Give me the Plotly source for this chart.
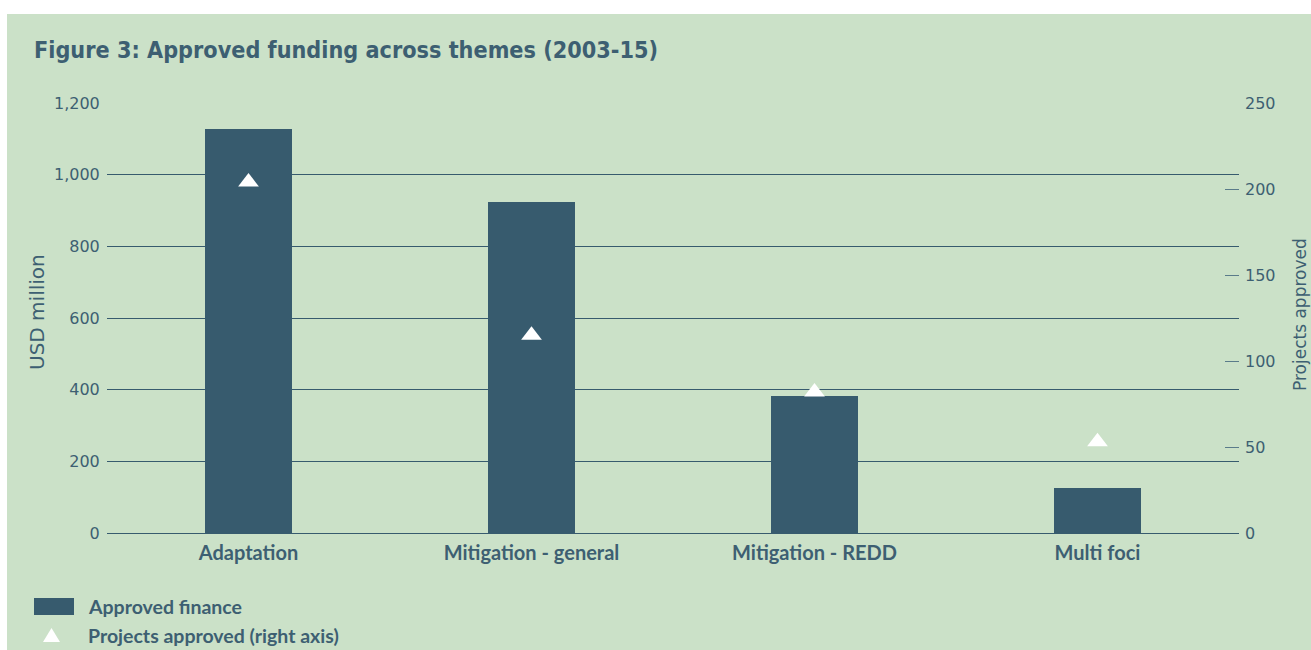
import plotly.graph_objects as go

# ---- data ----
categories = ["Adaptation", "Mitigation - general", "Mitigation - REDD", "Multi foci"]
approved_finance = [1127, 924, 382, 126]        # USD million (left axis)
projects_approved = [204, 115, 82, 53]          # count (right axis)
left_ticks = [0, 200, 400, 600, 800, 1000, 1200]
left_tick_labels = ["0", "200", "400", "600", "800", "1,000", "1,200"]
right_ticks = [0, 50, 100, 150, 200, 250]

# ---- styling ----
BG = "#cbe1c8"
BAR = "#375b6e"
TXT = "#3d5f72"
W, H = 1311, 650
L, R, T, B = 107, 72, 103, 117
PW, PH = W - L - R, H - T - B
TITLE_FONT = "DejaVu Sans Condensed, Roboto Condensed, Liberation Sans Narrow, Roboto, sans-serif"


def px(x):
    return (x - L) / PW


def py(y):
    return (H - B - y) / PH


fig = go.Figure()
fig.add_trace(go.Bar(
    x=categories, y=approved_finance, name="Approved finance",
    marker=dict(color=BAR, line=dict(width=0)), width=0.307,
    showlegend=False, yaxis="y"))
fig.add_trace(go.Scatter(
    x=categories, y=projects_approved, name="Projects approved (right axis)",
    mode="markers", marker=dict(symbol="triangle-up", size=18, color="white",
                                line=dict(width=0)),
    showlegend=False, yaxis="y2"))

shapes = [
    # white border strips
    dict(type="rect", xref="paper", yref="paper", x0=px(0), x1=px(W), y0=py(0), y1=py(14),
         fillcolor="white", line=dict(width=0), layer="below"),
    dict(type="rect", xref="paper", yref="paper", x0=px(0), x1=px(7), y0=py(0), y1=py(H),
         fillcolor="white", line=dict(width=0), layer="below"),
    # legend rectangle
    dict(type="rect", xref="paper", yref="paper", x0=px(34), x1=px(74), y0=py(615), y1=py(598),
         fillcolor=BAR, line=dict(width=0)),
    # legend triangle
    dict(type="path", xref="paper", yref="paper",
         path=f"M {px(43)},{py(642)} L {px(60)},{py(642)} L {px(51.5)},{py(628)} Z",
         fillcolor="white", line=dict(width=0)),
]

annotations = [
    dict(text="<b>Figure 3: Approved funding across themes (2003-15)</b>",
         xref="paper", yref="paper", x=px(32), y=py(49), xanchor="left", yanchor="middle",
         showarrow=False, font=dict(family=TITLE_FONT, size=23.2, color=TXT)),
    dict(text="USD million", xref="paper", yref="paper", x=px(37), y=py(312),
         xanchor="center", yanchor="middle", textangle=-90, showarrow=False,
         font=dict(family="DejaVu Sans", size=20, color=TXT)),
    dict(text="Projects approved", xref="paper", yref="paper", x=px(1300), y=py(315),
         xanchor="center", yanchor="middle", textangle=-90, showarrow=False,
         font=dict(family="DejaVu Sans", size=17, color=TXT)),
    dict(text="Approved finance", xref="paper", yref="paper", x=px(86), y=py(606),
         xanchor="left", yanchor="middle", showarrow=False,
         font=dict(family="Lato", size=19.5, color=TXT, weight="bold")),
    dict(text="Projects approved (right axis)", xref="paper", yref="paper", x=px(86), y=py(635),
         xanchor="left", yanchor="middle", showarrow=False,
         font=dict(family="Lato", size=19.5, color=TXT, weight="bold")),
]

fig.update_layout(
    width=W, height=H,
    margin=dict(l=L, r=R, t=T, b=B, autoexpand=False),
    paper_bgcolor=BG, plot_bgcolor=BG,
    bargap=0, showlegend=False,
    shapes=shapes, annotations=annotations,
    xaxis=dict(type="category", showgrid=False, zeroline=False, showline=False,
               ticks="", ticklabelstandoff=6,
               tickfont=dict(family="Lato", size=20, color=TXT, weight="bold")),
    yaxis=dict(range=[0, 1200], tickvals=left_ticks, ticktext=left_tick_labels,
               showgrid=True, gridcolor=BAR, gridwidth=1, zeroline=True,
               zerolinecolor=BAR, zerolinewidth=1, showline=False,
               ticks="outside", ticklen=3, tickcolor="rgba(0,0,0,0)",
               tickfont=dict(family="DejaVu Sans", size=16, color=TXT)),
    yaxis2=dict(range=[0, 250], tickvals=right_ticks, overlaying="y", side="right",
                showgrid=False, zeroline=False, showline=False,
                ticks="inside", ticklen=14, tickcolor="#5a7b8a", tickwidth=1,
                ticklabelstandoff=5,
                tickfont=dict(family="DejaVu Sans", size=16, color=TXT)),
)

fig.write_html("out.html", config={"displayModeBar": False},
               post_script="document.body.style.margin='0';document.body.style.overflow='hidden';")
